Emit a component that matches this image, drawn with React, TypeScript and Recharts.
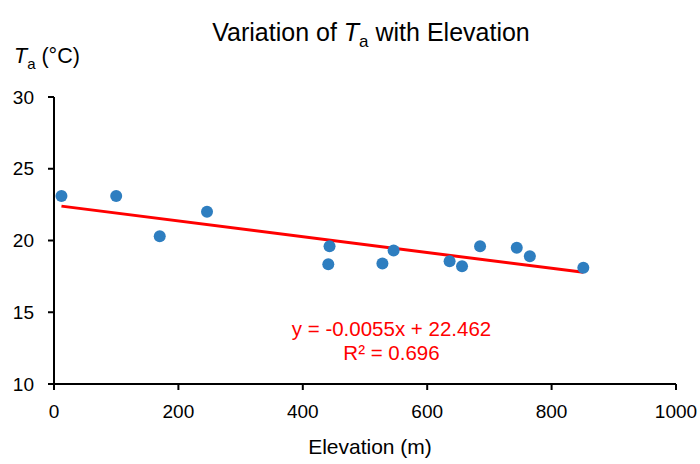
import { ComposedChart, Scatter, XAxis, YAxis } from "recharts";

const elevation = [12, 100, 170, 246, 443, 441, 528, 546, 636, 656, 685, 744, 765, 851];
const temperature = [23.1, 23.1, 20.3, 22.0, 19.6, 18.35, 18.4, 19.3, 18.55, 18.2, 19.6, 19.5, 18.9, 18.1];
const xTicks = [0, 200, 400, 600, 800, 1000];
const yTicks = [10, 15, 20, 25, 30];

const slope = -0.0055;
const intercept = 22.462;

const points = elevation.map((x, i) => ({ x, y: temperature[i] }));
const trendX = [Math.min(...elevation), Math.max(...elevation)];
const trend = trendX.map((x) => ({ x, y: slope * x + intercept }));

const font = "'Liberation Sans', Arial, sans-serif";

const Dot = (props: any) => <circle cx={props.cx} cy={props.cy} r={6} fill="#2E7EC0" />;

export default function App() {
  return (
    <div style={{ position: "absolute", left: 0, top: 0, width: 700, height: 464, background: "#fff" }}>
      <ComposedChart width={700} height={464} margin={{ top: 97, right: 24, bottom: 50, left: 0 }}>
        <XAxis
          type="number"
          dataKey="x"
          domain={[0, 1000]}
          ticks={xTicks}
          stroke="#000"
          strokeWidth={2}
          tickSize={6}
          tickMargin={15}
          height={30}
          tick={{ fill: "#000", fontSize: 19, fontFamily: font }}
          allowDataOverflow
        />
        <YAxis
          type="number"
          dataKey="y"
          domain={[10, 30]}
          ticks={yTicks}
          stroke="#000"
          strokeWidth={2}
          tickSize={6}
          tickMargin={14}
          width={54}
          tick={{ fill: "#000", fontSize: 19, fontFamily: font }}
          allowDataOverflow
        />
        <Scatter
          data={trend}
          line={{ stroke: "#FF0000", strokeWidth: 3 }}
          shape={() => null}
          isAnimationActive={false}
        />
        <Scatter data={points} shape={Dot} isAnimationActive={false} />
      </ComposedChart>
      <svg width={700} height={464} style={{ position: "absolute", left: 0, top: 0, pointerEvents: "none" }} fontFamily={font}>
        <text x={371} y={40.5} textAnchor="middle" fontSize={25} fill="#000">
          Variation of <tspan fontStyle="italic">T</tspan>
          <tspan fontSize={17} dy={6}>a</tspan>
          <tspan dy={-6}> with Elevation</tspan>
        </text>
        <text x={14} y={63} fontSize={21.5} fill="#000">
          <tspan fontStyle="italic">T</tspan>
          <tspan fontSize={15} dy={6}>a</tspan>
          <tspan dy={-6}> (°C)</tspan>
        </text>
        <text x={370} y={454} textAnchor="middle" fontSize={21} fill="#000">
          Elevation (m)
        </text>
        <text x={391.5} y={336} textAnchor="middle" fontSize={20.5} fill="#FF0000">
          y = -0.0055x + 22.462
        </text>
        <text x={391.5} y={360} textAnchor="middle" fontSize={20.5} fill="#FF0000">
          R² = 0.696
        </text>
      </svg>
    </div>
  );
}
